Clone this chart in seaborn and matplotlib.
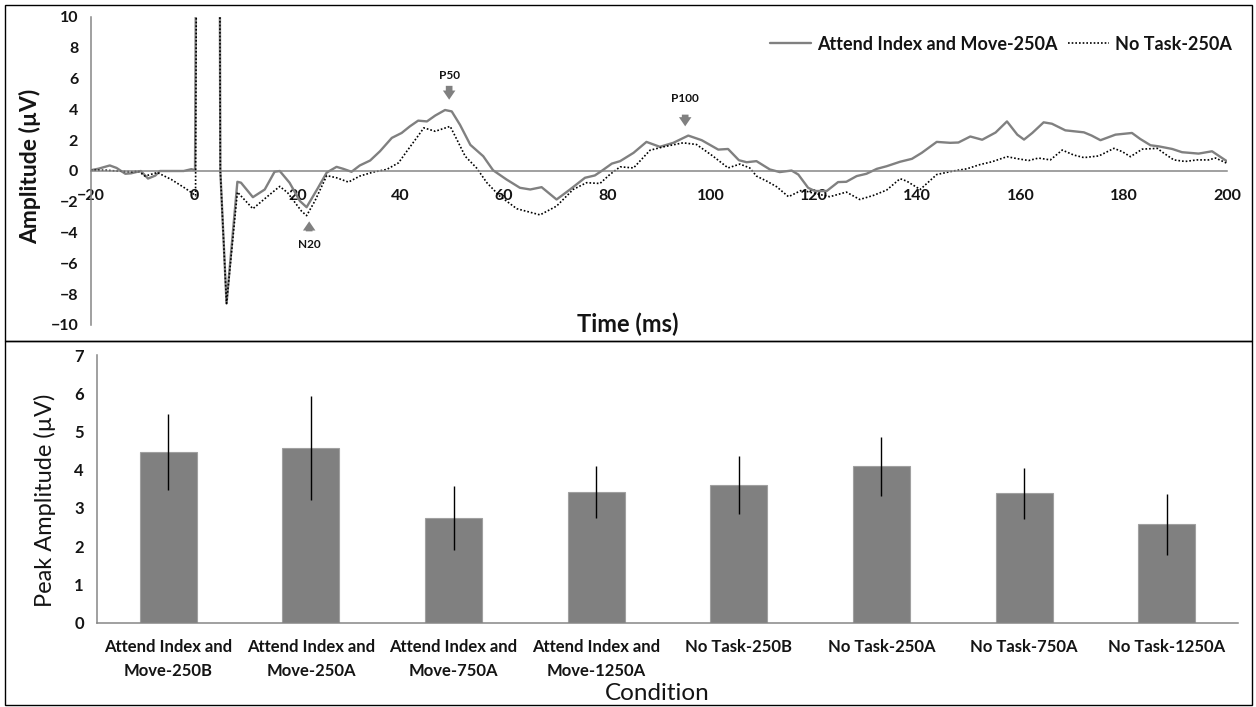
import numpy as np
import pandas as pd
import matplotlib
matplotlib.use("Agg")
import matplotlib.pyplot as plt
from matplotlib.patches import Rectangle
import seaborn as sns

# ---- waveform data ----
t_attend = [-20, -18.5, -16.3, -15, -13.3, -12.2, -10.3, -8.9, -7.5, -6.6, -4, -2, -0.5, 0.2,
            1.0, 4.6, 5.1, 6.3, 8.4, 9.1, 11.4, 13.7, 15.6, 16.6, 18.5, 20.5, 21.8, 24.0,
            25.7, 27.6, 28.9, 30.5, 32.1, 34.1, 36, 38.3, 40.2, 41.8, 43.4, 45.1, 46.7, 48.6,
            49.9, 51.5, 53.5, 56, 57.9, 60.5, 63.1, 65.1, 67.3, 70.2, 72.8, 75.7, 77.6, 78.9,
            80.9, 82.5, 85.1, 87.6, 90.2, 92.8, 95.7, 98.3, 101.5, 103.4, 105.5, 107, 108.9,
            111.5, 113.4, 115.7, 117, 118.9, 120.2, 122.5, 124.7, 126.3, 128.3, 130.2, 132.2,
            134.1, 136.7, 139, 140.9, 143.8, 146.4, 148, 150.3, 152.6, 155.2, 157.4, 159.4,
            160.7, 162.3, 164.5, 166.1, 168.7, 172.3, 173.8, 175.5, 178.4, 181.6, 183.2,
            185.2, 186.8, 189.4, 191.3, 194.5, 197.1, 200]
amp_attend = [0.05, 0.15, 0.36, 0.2, -0.18, -0.15, 0.0, -0.49, -0.3, 0.0, 0.0, 0.0, 0.12, 0.05,
              60, 60, 0.0, -8.6, -0.7, -0.76, -1.7, -1.2, -0.05, 0.0, -0.76, -1.95, -2.35, -1.1,
              -0.1, 0.27, 0.14, -0.05, 0.36, 0.68, 1.28, 2.15, 2.47, 2.9, 3.27, 3.22, 3.6, 3.96,
              3.87, 3.0, 1.7, 0.96, 0.05, -0.55, -1.09, -1.2, -1.05, -1.85, -1.2, -0.44, -0.29, 0.0,
              0.48, 0.64, 1.18, 1.89, 1.57, 1.83, 2.3, 2.0, 1.39, 1.43, 0.7, 0.57, 0.64,
              0.1, -0.07, 0.03, -0.23, -1.09, -1.3, -1.3, -0.72, -0.7, -0.33, -0.18, 0.14,
              0.31, 0.6, 0.79, 1.18, 1.89, 1.83, 1.85, 2.24, 2.03, 2.5, 3.22, 2.36,
              2.04, 2.47, 3.16, 3.07, 2.64, 2.51, 2.3, 2.0, 2.36, 2.47, 2.08,
              1.67, 1.6, 1.43, 1.22, 1.13, 1.28, 0.63]

t_notask = [-20, -17, -15, -12, -10.8, -9.5, -7.1, -4.4, -1.8, -0.5, 0.3, 1.0, 4.6, 5.1, 6.3,
            8.4, 11.4, 14.3, 16.6, 18.1, 20.8, 21.8, 23.4, 25.7, 27.6, 29.9, 32.1, 34.7, 37.3,
            39.6, 41.2, 43.1, 44.5, 46.7, 49.6, 50.9, 52.5, 54.7, 56.7, 59.2, 62.5, 67, 70.2,
            73.4, 76, 78.6, 80.5, 82.5, 85.1, 88.3, 90.9, 94.7, 97.3, 100.5, 103.4, 105.7,
            107.6, 108.9, 110.9, 112.8, 115.1, 117.7, 119.6, 123.1, 126.3, 128.9, 131.5,
            134.1, 136.7, 138, 140.6, 143.8, 147, 149.6, 152.2, 154.5, 157.4, 159.4, 161.6,
            163.5, 165.8, 168.1, 170.3, 172.3, 175.2, 178.1, 179.7, 181.3, 183.6, 186.5,
            187.8, 189.7, 191.9, 194.2, 196.4, 197.8, 200]
amp_notask = [0.05, 0.05, 0.0, -0.05, 0.0, -0.33, -0.1, -0.55, -1.1, -1.4, -1.6, 60, 60, 0.0, -8.6,
              -1.37, -2.45, -1.63, -1.0, -1.4, -2.6, -2.9, -1.95, -0.3, -0.44, -0.72, -0.33, -0.07, 0.1,
              0.53, 1.28, 2.15, 2.8, 2.58, 2.9, 2.04, 0.96, 0.2, -0.76, -1.63, -2.45, -2.85, -2.28,
              -1.2, -0.76, -0.81, -0.23, 0.27, 0.2, 1.35, 1.57, 1.83, 1.72, 0.96, 0.2, 0.45,
              0.2, -0.33, -0.66, -1.02, -1.67, -1.24, -1.41, -1.67, -1.37, -1.85, -1.59,
              -1.24, -0.5, -0.66, -1.2, -0.23, 0.0, 0.14, 0.42, 0.6, 0.93, 0.8, 0.68,
              0.84, 0.72, 1.36, 1.04, 0.87, 0.98, 1.47, 1.26, 0.93, 1.42, 1.47,
              1.15, 0.72, 0.62, 0.72, 0.72, 0.84, 0.5]

peak_names = ["N20", "P50", "P100"]
peak_times = [22.3, 49.4, 95.1]

# ---- bar chart data ----
conditions = ["Attend Index and\nMove-250B", "Attend Index and\nMove-250A",
              "Attend Index and\nMove-750A", "Attend Index and\nMove-1250A",
              "No Task-250B", "No Task-250A", "No Task-750A", "No Task-1250A"]
peak_amp = [4.47, 4.57, 2.74, 3.43, 3.60, 4.09, 3.38, 2.57]
peak_err = [1.00, 1.35, 0.83, 0.68, 0.75, 0.77, 0.66, 0.79]

sns.set_theme(style="white")
plt.rcParams["font.family"] = ["Lato", "DejaVu Sans"]

W, H = 1256, 707
fig = plt.figure(figsize=(W / 100, H / 100), dpi=100)

# chart borders
fig.add_artist(Rectangle((5 / W, 1 - 341 / H), 1247 / W, 336 / H, transform=fig.transFigure,
                         fill=False, ec="black", lw=1))
fig.add_artist(Rectangle((5 / W, 1 - 705 / H), 1247 / W, 364 / H, transform=fig.transFigure,
                         fill=False, ec="black", lw=1))

grey = "#808080"
axis_grey = "#868686"
txt = "#141414"

# ---------------- top panel: waveforms ----------------
ax1 = fig.add_axes([90.7 / W, 1 - 325 / H, (1227 - 90.7) / W, (325 - 17) / H])
wave_a = pd.DataFrame({"t": t_attend, "amp": amp_attend})
wave_n = pd.DataFrame({"t": t_notask, "amp": amp_notask})
sns.lineplot(data=wave_a, x="t", y="amp", ax=ax1, color=grey, lw=1.7, sort=False,
             label="Attend Index and Move-250A")
sns.lineplot(data=wave_n, x="t", y="amp", ax=ax1, color="black", lw=1.2, sort=False,
             linestyle=(0, (1, 1.2)), label="No Task-250A")

ax1.set_xlim(-20, 200)
ax1.set_ylim(-10, 10)
ax1.set_xticks(range(-20, 201, 20))
ax1.set_yticks(range(-10, 11, 2))
for s in ["top", "right"]:
    ax1.spines[s].set_visible(False)
ax1.spines["bottom"].set_position(("data", 0))
for s in ["left", "bottom"]:
    ax1.spines[s].set_color(axis_grey)
    ax1.spines[s].set_linewidth(1.1)
ax1.tick_params(axis="both", direction="out", length=5, width=1, color=axis_grey,
                labelsize=11.5, labelcolor=txt)
ax1.tick_params(axis="x", pad=8)
ax1.tick_params(axis="y", pad=4)
for lab in ax1.get_xticklabels() + ax1.get_yticklabels():
    lab.set_fontweight("bold")

ax1.set_xlabel("Time (ms)", fontsize=17, fontweight="bold", color=txt)
ax1.xaxis.set_label_coords((628 - 90.7) / 1136.3, (325 - 324) / 308)
ax1.xaxis.label.set_va("center")
ax1.set_ylabel("Amplitude (µV)", fontsize=16.5, fontweight="bold", color=txt)
ax1.yaxis.set_label_coords((30 - 90.7) / 1136.3, (325 - 166) / 308)
ax1.yaxis.label.set_va("center")

# peak markers
arrow_kw = dict(arrowstyle="simple,head_width=0.75,head_length=0.55,tail_width=0.4",
                fc=grey, ec="none", shrinkA=0, shrinkB=0)
label_y = [-4.76, 6.18, 4.7]
arrow_from = [-3.92, 5.53, 3.66]
arrow_to = [-3.27, 4.63, 2.9]
for name, t, ly, a0, a1 in zip(peak_names, peak_times, label_y, arrow_from, arrow_to):
    ax1.text(t, ly, name, ha="center", va="center", fontsize=8.5, fontweight="bold", color=txt)
    ax1.annotate("", xy=(t, a1), xytext=(t, a0), arrowprops=arrow_kw)

leg = ax1.legend(loc="center right", bbox_to_anchor=(1248 / W, 1 - 44 / H),
                 bbox_transform=fig.transFigure, ncol=2, frameon=False,
                 handlelength=2.3, handletextpad=0.3, columnspacing=0.6,
                 prop={"size": 13, "weight": "bold"})
for t in leg.get_texts():
    t.set_color(txt)

# ---------------- bottom panel: peak amplitudes ----------------
ax2 = fig.add_axes([97 / W, 1 - 622.7 / H, (1238 - 97) / W, (622.7 - 355) / H])
bars = pd.DataFrame({"condition": conditions, "amp": peak_amp})
sns.barplot(data=bars, x="condition", y="amp", ax=ax2, color=grey, saturation=1,
            width=0.4, errorbar=None, edgecolor="#a0a0a0", linewidth=0.8)
ax2.errorbar(x=np.arange(len(conditions)), y=peak_amp, yerr=peak_err, fmt="none",
             ecolor="black", elinewidth=1, capsize=0)

ax2.set_ylim(0, 7)
ax2.set_xlim(-0.5, len(conditions) - 0.5)
ax2.set_yticks(range(0, 8))
ax2.set_xticks(np.arange(-0.5, len(conditions), 1))
ax2.set_xticklabels([])
ax2.set_xticks(range(len(conditions)), labels=conditions, minor=True,
               fontweight="bold", linespacing=1.6)
for s in ["top", "right"]:
    ax2.spines[s].set_visible(False)
for s in ["left", "bottom"]:
    ax2.spines[s].set_color(axis_grey)
    ax2.spines[s].set_linewidth(1.1)
ax2.tick_params(axis="both", which="major", direction="out", length=6, width=1,
                color=axis_grey, labelsize=12, labelcolor=txt)
ax2.tick_params(axis="x", which="minor", length=0, pad=12, labelsize=12, labelcolor=txt)
for lab in ax2.get_yticklabels():
    lab.set_fontweight("bold")

ax2.set_xlabel("Condition", fontsize=17.5, color=txt)
ax2.xaxis.set_label_coords((657 - 97) / 1141, (622.7 - 694) / 267.7)
ax2.xaxis.label.set_va("center")
ax2.set_ylabel("Peak Amplitude (µV)", fontsize=17, color=txt)
ax2.yaxis.set_label_coords((45 - 97) / 1141, (622.7 - 500) / 267.7)
ax2.yaxis.label.set_va("center")

fig.savefig("out.png", dpi=100)
